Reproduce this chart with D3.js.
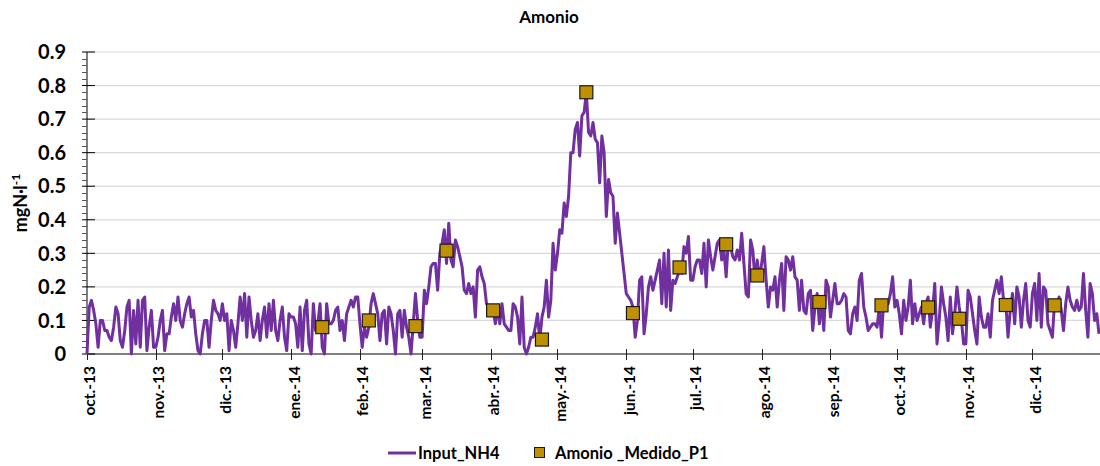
<!DOCTYPE html>
<html>
<head>
<meta charset="utf-8">
<script src="https://cdn.jsdelivr.net/npm/d3@7"></script>
<style>
  body { margin: 0; background: #fff; }
  text { font-family: Lato, "Open Sans", sans-serif; font-weight: bold; fill: #000; }
</style>
</head>
<body>
<svg id="chart" width="1100" height="466"></svg>
<script>
// Input_NH4, daily values (mgN/l) month by month
var nh4Oct13 = [0.00,0.14,0.16,0.13,0.09,0.02,0.10,0.10,0.07,0.07,0.05,0.04,0.08,0.14,0.12,0.04,0.02,0.07,0.14,0.16,0.00,0.13,0.03,0.16,0.02,0.16,0.17,0.01,0.08,0.13,0.02];
var nh4Nov13 = [0.02,0.05,0.10,0.13,0.01,0.06,0.06,0.11,0.15,0.10,0.17,0.10,0.08,0.12,0.15,0.17,0.11,0.13,0.06,0.01,0.00,0.06,0.10,0.10,0.02,0.10,0.16,0.13,0.12,0.10];
var nh4Dec13 = [0.15,0.10,0.12,0.01,0.10,0.07,0.02,0.09,0.17,0.10,0.18,0.05,0.17,0.10,0.05,0.07,0.12,0.04,0.10,0.14,0.05,0.15,0.07,0.16,0.07,0.04,0.10,0.14,0.05,0.01,0.12];
var nh4Jan14 = [0.11,0.11,0.09,0.02,0.14,0.01,0.13,0.16,0.03,0.00,0.15,0.07,0.09,0.15,0.02,0.00,0.15,0.09,0.09,0.10,0.13,0.14,0.07,0.10,0.04,0.12,0.14,0.16,0.14,0.17,0.17];
var nh4Feb14 = [0.09,0.02,0.08,0.05,0.08,0.15,0.18,0.15,0.12,0.04,0.12,0.13,0.03,0.14,0.12,0.07,0.00,0.12,0.13,0.05,0.13,0.08,0.05,0.00,0.09,0.18,0.10,0.05];
var nh4Mar14 = [0.05,0.19,0.15,0.20,0.26,0.27,0.27,0.19,0.30,0.33,0.37,0.27,0.39,0.28,0.26,0.34,0.32,0.29,0.26,0.19,0.18,0.21,0.18,0.20,0.11,0.25,0.26,0.23,0.21,0.15,0.14];
var nh4Apr14 = [0.14,0.13,0.09,0.14,0.09,0.15,0.09,0.08,0.07,0.07,0.15,0.14,0.11,0.03,0.17,0.02,0.00,0.02,0.05,0.05,0.08,0.12,0.04,0.11,0.14,0.22,0.11,0.16,0.33,0.25];
var nh4May14 = [0.30,0.37,0.36,0.45,0.41,0.47,0.60,0.60,0.67,0.69,0.59,0.71,0.72,0.78,0.66,0.65,0.69,0.64,0.63,0.51,0.65,0.60,0.41,0.52,0.48,0.47,0.33,0.42,0.36,0.30,0.24];
var nh4Jun14 = [0.18,0.17,0.16,0.14,0.05,0.10,0.22,0.23,0.06,0.12,0.20,0.23,0.19,0.22,0.25,0.28,0.15,0.30,0.14,0.31,0.13,0.22,0.21,0.23,0.25,0.24,0.32,0.30,0.35,0.22];
var nh4Jul14 = [0.22,0.26,0.28,0.28,0.24,0.33,0.20,0.34,0.29,0.25,0.29,0.33,0.34,0.28,0.31,0.23,0.34,0.32,0.29,0.28,0.31,0.28,0.36,0.27,0.18,0.17,0.34,0.31,0.22,0.28,0.22];
var nh4Aug14 = [0.27,0.32,0.22,0.14,0.20,0.19,0.23,0.14,0.22,0.27,0.13,0.29,0.28,0.25,0.29,0.23,0.22,0.13,0.22,0.13,0.12,0.18,0.19,0.07,0.14,0.18,0.09,0.16,0.07,0.22,0.20];
var nh4Sep14 = [0.11,0.16,0.21,0.15,0.15,0.16,0.18,0.17,0.07,0.06,0.12,0.14,0.10,0.22,0.24,0.14,0.11,0.07,0.08,0.09,0.09,0.08,0.14,0.05,0.16,0.14,0.15,0.18,0.23,0.14];
var nh4Oct14 = [0.16,0.12,0.06,0.16,0.10,0.14,0.22,0.09,0.15,0.10,0.12,0.14,0.09,0.15,0.17,0.08,0.13,0.21,0.03,0.10,0.20,0.15,0.11,0.04,0.17,0.06,0.12,0.20,0.14,0.10,0.03];
var nh4Nov14 = [0.03,0.19,0.17,0.12,0.07,0.03,0.17,0.11,0.08,0.08,0.12,0.05,0.16,0.19,0.22,0.18,0.23,0.16,0.15,0.05,0.13,0.18,0.09,0.20,0.17,0.08,0.16,0.21,0.10,0.08];
var nh4Dec14 = [0.18,0.21,0.10,0.24,0.08,0.20,0.19,0.09,0.07,0.05,0.16,0.14,0.17,0.13,0.07,0.15,0.20,0.16,0.14,0.13,0.16,0.13,0.14,0.24,0.13,0.05,0.21,0.18,0.10,0.12,0.06];

// Amonio _Medido_P1 samples
var medidoDates = ["2014-01-15","2014-02-05","2014-02-26","2014-03-12","2014-04-02","2014-04-24","2014-05-14","2014-06-04","2014-06-25","2014-07-16","2014-07-30","2014-08-27","2014-09-24","2014-10-15","2014-10-29","2014-11-19","2014-12-11"];
var medidoValues = [0.08,0.10,0.083,0.308,0.13,0.043,0.78,0.122,0.258,0.327,0.234,0.155,0.145,0.139,0.105,0.146,0.145];

// tick labels
var monthLabels = ["oct.-13","nov.-13","dic.-13","ene.-14","feb.-14","mar.-14","abr.-14","may.-14","jun.-14","jul.-14","ago.-14","sep.-14","oct.-14","nov.-14","dic.-14"];
var yTicks = [0,0.1,0.2,0.3,0.4,0.5,0.6,0.7,0.8,0.9];

var months = [nh4Oct13,nh4Nov13,nh4Dec13,nh4Jan14,nh4Feb14,nh4Mar14,nh4Apr14,nh4May14,nh4Jun14,nh4Jul14,nh4Aug14,nh4Sep14,nh4Oct14,nh4Nov14,nh4Dec14];

var series = [];
months.forEach(function(vals, m) {
    vals.forEach(function(v, i) {
        series.push({date: new Date(2013, 9 + m, 1 + i), value: v});
    });
});

var parse = d3.timeParse("%Y-%m-%d");
var medido = medidoDates.map(function(d, i) {
    return {date: parse(d), value: medidoValues[i]};
});

var svg = d3.select('#chart');

var x = d3.scaleTime()
    .domain([new Date(2013, 9, 1), new Date(2014, 11, 31)])
    .range([87, 1099]);

var y = d3.scaleLinear()
    .domain([0, 0.9])
    .range([354, 52]);

//title
svg.append('text')
    .attr('x', 549)
    .attr('y', 23)
    .attr('text-anchor', 'middle')
    .style('font-size', '17px')
    .text('Amonio');

//gridlines
svg.append('g')
    .selectAll('line')
    .data(yTicks.slice(1))
    .join('line')
    .attr('x1', 87)
    .attr('x2', 1100)
    .attr('y1', function(d) { return y(d); })
    .attr('y2', function(d) { return y(d); })
    .attr('stroke', '#d9d9d9')
    .attr('stroke-width', 1.2);

//y axis
var yAxis = svg.append('g');

yAxis.append('line')
    .attr('x1', 87).attr('x2', 87)
    .attr('y1', y(0.9)).attr('y2', y(0))
    .attr('stroke', '#000');

yAxis.selectAll('.minor')
    .data(d3.range(0, 0.901, 0.02).filter(function(d) { return Math.abs(d * 10 - Math.round(d * 10)) > 1e-6; }))
    .join('line')
    .attr('class', 'minor')
    .attr('x1', 82).attr('x2', 87)
    .attr('y1', function(d) { return Math.round(y(d)) + 0.5; })
    .attr('y2', function(d) { return Math.round(y(d)) + 0.5; })
    .attr('stroke', '#555');

yAxis.selectAll('.major')
    .data(yTicks)
    .join('line')
    .attr('class', 'major')
    .attr('x1', 82).attr('x2', 95)
    .attr('y1', function(d) { return y(d); })
    .attr('y2', function(d) { return y(d); })
    .attr('stroke', '#000');

yAxis.selectAll('text')
    .data(yTicks)
    .join('text')
    .attr('x', 66)
    .attr('y', function(d) { return y(d); })
    .attr('dy', '0.36em')
    .attr('text-anchor', 'end')
    .style('font-size', '20px')
    .text(function(d) { return d === 0 ? '0' : d3.format('.1f')(d); });

//y label
var yLabel = svg.append('text')
    .attr('transform', 'translate(27,203) rotate(-90)')
    .attr('text-anchor', 'middle')
    .style('font-size', '18px');
yLabel.append('tspan').text('mgN·l');
yLabel.append('tspan').attr('dy', -7).style('font-size', '12px').text('-1');

//x axis
var xAxis = svg.append('g');
var monthTicks = d3.timeMonth.range(new Date(2013, 9, 1), new Date(2014, 11, 2));

xAxis.append('line')
    .attr('x1', 87).attr('x2', 1100)
    .attr('y1', 354).attr('y2', 354)
    .attr('stroke', '#000');

xAxis.selectAll('.tick')
    .data(monthTicks)
    .join('line')
    .attr('class', 'tick')
    .attr('x1', function(d) { return Math.round(x(d)) + 0.5; })
    .attr('x2', function(d) { return Math.round(x(d)) + 0.5; })
    .attr('y1', 349).attr('y2', 360)
    .attr('stroke', '#222');

xAxis.selectAll('text')
    .data(monthTicks)
    .join('text')
    .attr('transform', function(d) { return 'translate(' + (x(d) + 3) + ',366) rotate(-90)'; })
    .attr('dy', '0.35em')
    .attr('text-anchor', 'end')
    .style('font-size', '15.5px')
    .text(function(d, i) { return monthLabels[i]; });

//Input_NH4 line
var line = d3.line()
    .x(function(d) { return x(d.date); })
    .y(function(d) { return y(d.value); });

svg.append('path')
    .datum(series)
    .attr('d', line)
    .attr('fill', 'none')
    .attr('stroke', '#7030a0')
    .attr('stroke-width', 3)
    .attr('stroke-linejoin', 'round');

//measured points
svg.append('g')
    .selectAll('rect')
    .data(medido)
    .join('rect')
    .attr('x', function(d) { return x(d.date) - 6.5; })
    .attr('y', function(d) { return y(d.value) - 6.5; })
    .attr('width', 13)
    .attr('height', 13)
    .attr('fill', '#bf9000')
    .attr('stroke', '#1a1a1a')
    .attr('stroke-width', 1.2);

//legend
var legend = svg.append('g');
legend.append('line')
    .attr('x1', 388).attr('x2', 416)
    .attr('y1', 453).attr('y2', 453)
    .attr('stroke', '#7030a0')
    .attr('stroke-width', 3);
legend.append('text')
    .attr('x', 418).attr('y', 459)
    .style('font-size', '16.5px')
    .text('Input_NH4');
legend.append('rect')
    .attr('x', 534.5).attr('y', 447.5)
    .attr('width', 10).attr('height', 10)
    .attr('fill', '#bf9000')
    .attr('stroke', '#1a1a1a');
legend.append('text')
    .attr('x', 555).attr('y', 459)
    .style('font-size', '16.5px')
    .text('Amonio _Medido_P1');
</script>
</body>
</html>
